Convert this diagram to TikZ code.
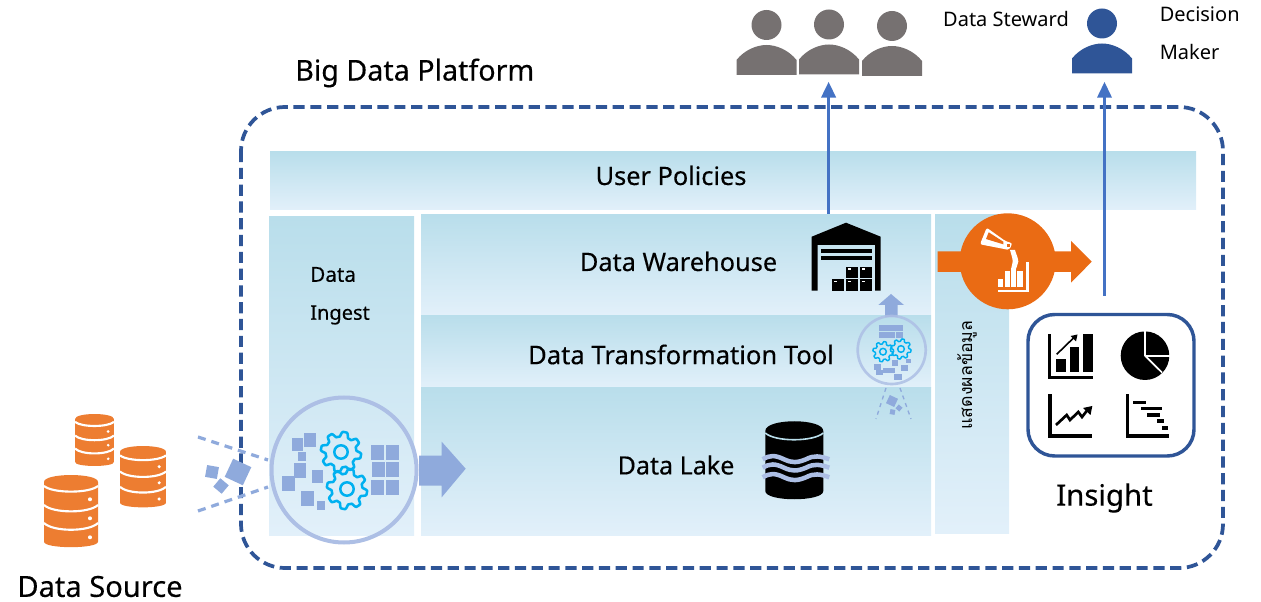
\documentclass[tikz,border=0pt]{standalone}
\usepackage{fontspec}
\usepackage{xcolor}
\setmainfont{Noto Sans}
\newfontfamily\headfont[FakeBold=0.3]{Noto Sans}
\newfontfamily\thaifont[Script=Thai]{Loma}
\definecolor{panelTop}{HTML}{B9DEEB}
\definecolor{panelBottom}{HTML}{E2F0FA}
\definecolor{platformBlue}{HTML}{2F5597}
\definecolor{arrowBlue}{HTML}{4472C4}
\definecolor{chipBlue}{HTML}{8FAADC}
\definecolor{ringBlue}{HTML}{ADBFE5}
\definecolor{gearCyan}{HTML}{00B0F0}
\definecolor{dbOrange}{HTML}{ED7D31}
\definecolor{pourOrange}{HTML}{EA6B14}
\definecolor{personGray}{HTML}{767171}
\tikzset{
  panelshade/.style={top color=panelTop,bottom color=panelBottom,draw=none},
  chip/.style={fill=chipBlue,draw=none},
  linkarrow/.style={draw=arrowBlue,line width=2.1pt},
  arrowtip/.style={fill=arrowBlue,draw=none},
  label/.style={inner sep=0.75pt,text=black},
  every pic/.style={yscale=-1},
  gearicon/.pic={
    \draw [gearCyan,line width=1.9pt,line join=round] plot [domain=0:360,samples=145] (\x:{17.8+2.4*max(-1,min(1,1.8*sin(8*\x)))}) -- cycle;
    \draw [gearCyan,line width=1.9pt] (0,0) circle (6.7);
  },
  smallgear/.pic={
    \draw [gearCyan,line width=1.1pt,line join=round] plot [domain=0:360,samples=145] (\x:{17.8+2.4*max(-1,min(1,1.8*sin(8*\x)))}) -- cycle;
    \draw [gearCyan,line width=1.1pt] (0,0) circle (6.7);
  },
  personicon/.pic={
    \fill (0,-34) circle (15);
    \fill (-30,16) -- (-30,1) .. controls (-22,-9) and (-10,-14) .. (0,-14) .. controls (10,-14) and (22,-9) .. (30,1) -- (30,16) -- cycle;
  },
  dbicon/.pic={
    \fill [dbOrange] (-27,7) .. controls (-27,-2.3) and (27,-2.3) .. (27,7) -- (27,66.7) .. controls (27,74) and (-27,74) .. (-27,66.7) -- cycle;
    \draw [white,line width=1.6pt] (-27,11) .. controls (-18,18.5) and (18,18.5) .. (27,11);
    \draw [white,line width=1.6pt] (-27,30) .. controls (-18,38.5) and (18,38.5) .. (27,30);
    \draw [white,line width=1.6pt] (-27,48) .. controls (-18,57) and (18,57) .. (27,48);
    \fill [white] (19,24.3) circle (2);
    \fill [white] (19,43.3) circle (2);
    \fill [white] (19,62.3) circle (2);
  },
}
\begin{document}
\begin{tikzpicture}[x=0.75pt,y=0.75pt,yscale=-1,xscale=1]
        \useasboundingbox (0,0) rectangle (1261,602);

        %Shape: Panels
        \path [panelshade] (270,152) rectangle (1196,210);
        \path [panelshade] (269,217) rectangle (414,535);
        \path [panelshade] (421,215) rectangle (931,315);
        \path [panelshade] (421,316) rectangle (931,388);
        \path [panelshade] (421,388) rectangle (931,535);
        \path [panelshade] (935,215) rectangle (1009,533);

        %Shape: Platform frame
        \draw [platformBlue,line width=2.8pt,dash pattern={on 8.4pt off 4.2pt},rounded corners=33pt] (241,107) rectangle (1223,568);

        %Shape: Data source
        \path (71,475) pic {dbicon};
        \path (143,446) pic [scale=.85] {dbicon};
        \path (94.5,414) pic [scale=.72] {dbicon};

        %Shape: Chips entering the platform
        \draw [chipBlue,line width=2.4pt,dash pattern={on 6pt off 4.5pt}] (198,437) -- (268,460);
        \draw [chipBlue,line width=2.4pt,dash pattern={on 6pt off 4.5pt}] (198,511) -- (268,487);
        \fill [chip,rotate around={25:(238,472)}] (228,462) rectangle (248,482);
        \fill [chip,rotate around={10:(212,472)}] (206,466) rectangle (218,478);
        \fill [chip,rotate around={40:(221,486)}] (215.5,480.5) rectangle (226.5,491.5);

        %Shape: Ingest circle
        \draw [ringBlue,line width=3pt] (344,470) circle (72.5);
        \fill [chip] (292,438) rectangle (303,451);
        \fill [chip] (304,433) rectangle (316,447);
        \fill [chip] (298,452) rectangle (306,461);
        \fill [chip] (294,463) rectangle (306,478);
        \fill [chip] (282,476) rectangle (295,491);
        \fill [chip] (312,470) rectangle (323,483);
        \fill [chip] (301,491) rectangle (314,506);
        \fill [chip] (317,501) rectangle (325,510);
        \fill [chip] (371,445) rectangle (384,460);
        \fill [chip] (386,445) rectangle (399,460);
        \fill [chip] (372,462) rectangle (385,477);
        \fill [chip] (386,462) rectangle (399,477);
        \fill [chip] (371,480) rectangle (384,495);
        \fill [chip] (386,480) rectangle (399,495);
        \path (341,452) pic {gearicon};
        \path (347,489) pic {gearicon};

        %Shape: Arrow to the lake
        \fill [chip] (419,455.7) -- (441.7,455.7) -- (441.7,441.7) -- (465.7,468.7) -- (441.7,497.3) -- (441.7,485.7) -- (419,485.7) -- cycle;

        %Shape: Warehouse
        \fill [even odd rule] (811.7,236.7) -- (846,222.7) -- (880.7,236.7) -- (880.7,290.7) -- (875,290.7) -- (875,245) -- (817.7,245) -- (817.7,290.7) -- (811.7,290.7) -- cycle;
        \fill (820.7,249) rectangle (871.7,252.7);
        \fill (820.7,256) rectangle (871.7,260);
        \fill (832.3,279.3) rectangle (844.3,290.7);
        \fill (846,279.3) rectangle (858,290.7);
        \fill (859.7,279.3) rectangle (871.7,290.7);
        \fill (846,266.7) rectangle (858,278.3);
        \fill (859.7,266.7) rectangle (871.7,278.3);
        \fill [white] (834,281) rectangle (836.5,282.5);
        \fill [white] (848,281) rectangle (850.5,282.5);
        \fill [white] (862,281) rectangle (864.5,282.5);
        \fill [white] (848,268.5) rectangle (850.5,270);
        \fill [white] (862,268.5) rectangle (864.5,270);

        %Shape: Transformation circle
        \fill [chip] (885,305) -- (878.3,305) -- (891,294) -- (904,305) -- (897.7,305) -- (897.7,317) -- (885,317) -- cycle;
        \draw [ringBlue,opacity=.85,line width=2pt] (891.7,350) circle (34);
        \fill [chip] (879,325) rectangle (903,331);
        \fill [chip] (879,332) rectangle (895,338);
        \fill [chip] (896,332) rectangle (903,338);
        \fill [chip] (874,364) rectangle (881,370);
        \fill [chip] (876,370) rectangle (883,375);
        \fill [chip] (883,368) rectangle (895,373);
        \fill [chip] (892,360) rectangle (898,366);
        \fill [chip] (901,365) rectangle (908,371);
        \fill [chip] (906,359) rectangle (911,363);
        \fill [chip] (894,374) rectangle (902,380);
        \path (883,351.7) pic [scale=.5] {smallgear};
        \path (901,349) pic [scale=.5] {smallgear};
        \draw [chipBlue,line width=1pt,dash pattern={on 3pt off 3pt}] (886,388) -- (876,419);
        \draw [chipBlue,line width=1pt,dash pattern={on 3pt off 3pt}] (900,388) -- (911,419);
        \fill [chip,rotate around={25:(892,401)}] (887.5,396.5) rectangle (896.5,405.5);
        \fill [chip,rotate around={40:(899,408)}] (896.5,405.5) rectangle (901.5,410.5);
        \fill [chip,rotate around={10:(892.5,412)}] (890,409.5) rectangle (895,414.5);

        %Shape: Lake
        \fill (765.3,431) .. controls (765.3,418) and (823.3,418) .. (823.3,431) -- (823.3,491) .. controls (823.3,502) and (765.3,502) .. (765.3,491) -- cycle;
        \draw [panelTop,line width=1.2pt] (765.3,433) .. controls (775,442) and (813,442) .. (823.3,433);
        \draw [ringBlue,line width=3.4pt] (762.7,459.3) .. controls (770,455) and (775,455) .. (784,459.3) .. controls (792,463) and (797,463) .. (806,459.3) .. controls (814,455) and (820,456) .. (829.3,459.3);
        \draw [ringBlue,line width=3.4pt] (762.7,467.7) .. controls (770,463.4) and (775,463.4) .. (784,467.7) .. controls (792,471.4) and (797,471.4) .. (806,467.7) .. controls (814,463.4) and (820,464.4) .. (829.3,467.7);
        \draw [ringBlue,line width=3.4pt] (762.7,477.3) .. controls (770,473) and (775,473) .. (784,477.3) .. controls (792,481) and (797,481) .. (806,477.3) .. controls (814,473) and (820,474) .. (829.3,477.3);

        %Shape: Orange pour arrow
        \fill [pourOrange] (937.7,251.3) -- (1071,251.3) -- (1071,241) -- (1091.7,261.7) -- (1071,282.7) -- (1071,272) -- (937.7,272) -- cycle;
        \fill [pourOrange] (1007.7,261.3) circle (48);
        \fill [white,rounded corners=1.5pt] (986.7,227.7) -- (980,244.3) -- (1009.3,250) -- (1012.3,243.3) -- (1005.3,241) -- cycle;
        \fill [pourOrange] (988.7,232.3) -- (986,239) -- (1003.3,244.3) -- (1003.3,241.7) -- cycle;
        \fill [pourOrange] (1006.5,244.5) rectangle (1009.5,247);
        \fill [white] (1010,250) -- (1015,250) .. controls (1016,254) and (1018.3,258) .. (1018.3,261.7) -- (1016.3,268.3) -- (1011.3,268.3) -- (1012.7,261.7) .. controls (1012.7,258) and (1011,254) .. (1010,250) -- cycle;
        \fill [white] (998,279) rectangle (1003.3,287.3);
        \fill [white] (1005,271) rectangle (1010.3,287.3);
        \fill [white] (1011.3,268) rectangle (1016.3,287.3);
        \fill [white] (1017.3,271) rectangle (1023,287.3);
        \fill [white] (1026,262.3) rectangle (1028.7,292.3);
        \fill [white] (998,290) rectangle (1028.7,292.3);

        %Shape: Insight box
        \draw [platformBlue,line width=2.6pt,fill=white,rounded corners=20pt] (1028,314.5) rectangle (1194,456);
        \fill (1048.3,334.3) rectangle (1050.7,379);
        \fill (1048.3,375.7) rectangle (1092.7,379);
        \fill (1056,359) rectangle (1066,372.3);
        \fill (1070,347.3) rectangle (1079.3,372.3);
        \fill (1083.3,334.3) rectangle (1092.7,372.3);
        \draw [line width=1.2pt] (1056.7,354.3) -- (1074,337.5);
        \fill (1077.5,334.5) -- (1070.5,336) -- (1076,341.5) -- cycle;
        \fill (1145,355.7) circle (24.3);
        \draw [white,line width=1.3pt] (1145,355.7) -- (1145,330);
        \draw [white,line width=1.3pt] (1145,355.7) -- (1171,355.7);
        \draw [white,line width=1.3pt] (1145,355.7) -- (1162,372.5);
        \fill (1048.3,394.3) rectangle (1051.7,437.7);
        \fill (1048.3,434.3) rectangle (1092.3,437.7);
        \draw [line width=2pt] (1056,425) -- (1066.7,415) -- (1070,420) -- (1078.3,412) -- (1082,417) -- (1089,408);
        \fill (1092.3,406) -- (1083,408) -- (1090.5,415) -- cycle;
        \fill (1125.7,394.3) rectangle (1129,437.7);
        \fill (1125.7,434.3) rectangle (1169,437.7);
        \fill (1133.3,400.7) rectangle (1146,404);
        \fill (1140.7,406.7) rectangle (1162.3,410.3);
        \fill (1147.3,413) rectangle (1160,416.7);
        \fill (1157,419.3) rectangle (1164,423);
        \fill (1162,426) rectangle (1168,429.7);

        %Shape: People
        \path [personGray] (766.5,59) pic {personicon};
        \path [personGray] (829,58.5) pic {personicon};
        \path [personGray] (892,60) pic {personicon};
        \path [platformBlue] (1102,57.5) pic {personicon};

        %Shape: Connectors
        \coordinate (warehouseout) at (828.6,214);
        \coordinate (stewardin) at (828.6,94);
        \coordinate (pourout) at (1104.5,296);
        \coordinate (makerin) at (1104.5,94);
        \draw [linkarrow] (warehouseout) -- (stewardin);
        \draw [linkarrow] (pourout) -- (makerin);
        \fill [arrowtip] (821,97.6) -- (828.6,82) -- (836.2,97.6) -- cycle;
        \fill [arrowtip] (1097,97.6) -- (1104.5,82) -- (1112,97.6) -- cycle;

        % Text Node
        \draw (294,73) node [anchor=west][label] (platform) {\headfont\fontsize{21.5}{26}\selectfont Big Data Platform};
        % Text Node
        \draw (671,175.5) node [label] (policies) {\headfont\fontsize{19}{23}\selectfont User Policies};
        % Text Node
        \draw (309,274.5) node [anchor=west][label] (ingesta) {\headfont\fontsize{15.5}{20}\selectfont Data};
        % Text Node
        \draw (309,315) node [anchor=west][label] (ingestb) {\headfont\fontsize{15}{20}\selectfont Ingest};
        % Text Node
        \draw (678.5,261.5) node [label] (warehouse) {\headfont\fontsize{19}{23}\selectfont Data Warehouse};
        % Text Node
        \draw (681,354.5) node [label] (transform) {\headfont\fontsize{19.2}{23}\selectfont Data Transformation Tool};
        % Text Node
        \draw (676,465) node [label] (lake) {\headfont\fontsize{18.8}{23}\selectfont Data Lake};
        % Text Node
        \draw (967,375) node [rotate=90][label] (display) {\thaifont\fontsize{13.3}{18}\selectfont แสดงผลข้อมูล};
        % Text Node
        \draw (1104.5,498) node [label] (insight) {\headfont\fontsize{22}{26}\selectfont Insight};
        % Text Node
        \draw (100,586.5) node [label] (source) {\headfont\fontsize{21.8}{26}\selectfont Data Source};
        % Text Node
        \draw (1006,19) node [label] (steward) {\fontsize{15}{18}\selectfont Data Steward};
        % Text Node
        \draw (1158.5,14) node [anchor=west][label] (decision) {\fontsize{15}{18}\selectfont Decision};
        % Text Node
        \draw (1158.5,52) node [anchor=west][label] (maker) {\fontsize{15}{18}\selectfont Maker};
\end{tikzpicture}
\end{document}
